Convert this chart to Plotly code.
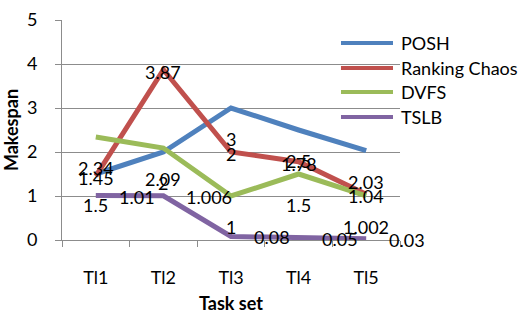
import plotly.graph_objects as go

# Task sets on the category axis
task_sets = ["Tl1", "Tl2", "Tl3", "Tl4", "Tl5"]

# Makespan per scheduling approach
posh = [1.5, 2, 3, 2.5, 2.03]
ranking_chaos = [1.45, 3.87, 2, 1.78, 1.04]
dvfs = [2.34, 2.09, 1, 1.5, 1.002]
tslb = [1.01, 1.006, 0.08, 0.05, 0.03]

series_names = ["POSH", "Ranking Chaos", "DVFS", "TSLB"]
series_values = [posh, ranking_chaos, dvfs, tslb]
series_colors = ["#4F81BD", "#C0504D", "#9BBB59", "#8064A2"]
# data-label placement per series: (xshift, yshift, xanchor)
label_offsets = [(0, -31, "center"), (0, -2, "center"), (0, -31, "center"), (21, -1, "left")]

FONT = "Lato, 'Open Sans', sans-serif"
GRID = "#8C8C8C"

fig = go.Figure()
annotations = []
for name, vals, color, (dx, dy, xa) in zip(series_names, series_values, series_colors, label_offsets):
    fig.add_trace(go.Scatter(
        x=task_sets, y=vals, mode="lines", name=name,
        line=dict(color=color, width=5), showlegend=False,
    ))
    for cat, v in zip(task_sets, vals):
        annotations.append(dict(
            x=cat, y=v, xref="x", yref="y", text=f"{v:g}", showarrow=False,
            xshift=dx, yshift=dy, xanchor=xa, yanchor="middle",
            font=dict(family=FONT, size=18, color="black"),
        ))

# Legend: sample line plus series name, stacked at top right
legend_rows = [0.895, 0.782, 0.673, 0.559]
shapes = []
for name, color, ly in zip(series_names, series_colors, legend_rows):
    shapes.append(dict(type="line", xref="paper", yref="paper",
                       x0=0.8254, x1=0.9793, y0=ly, y1=ly,
                       line=dict(color=color, width=4)))
    annotations.append(dict(x=0.997, y=ly, xref="paper", yref="paper", text=name,
                            showarrow=False, xanchor="left", yanchor="middle",
                            font=dict(family=FONT, size=18, color="black")))

fig.update_layout(
    width=526, height=322,
    margin=dict(l=62, r=126, t=20, b=82),
    paper_bgcolor="white", plot_bgcolor="white",
    font=dict(family=FONT, size=18, color="black"),
    annotations=annotations, shapes=shapes,
    showlegend=False,
)
fig.update_xaxes(
    type="category", range=[-0.5, 4.5], automargin=False,
    showline=True, linecolor=GRID, linewidth=1,
    ticks="outside", tickson="boundaries", ticklen=6, tickcolor=GRID,
    ticklabelstandoff=21, showgrid=False,
    title=dict(text="<b>Task set</b>", font=dict(family=FONT, size=18), standoff=10),
)
fig.update_yaxes(
    range=[0, 5], dtick=1, tick0=0, automargin=False,
    showline=True, linecolor=GRID, linewidth=1,
    ticks="outside", ticklen=6, tickcolor=GRID, ticklabelstandoff=14,
    showgrid=True, gridcolor=GRID, gridwidth=1, zeroline=False,
    title=dict(text="<b>Makespan</b>", font=dict(family=FONT, size=18), standoff=10),
)

fig.write_html("out.html")
